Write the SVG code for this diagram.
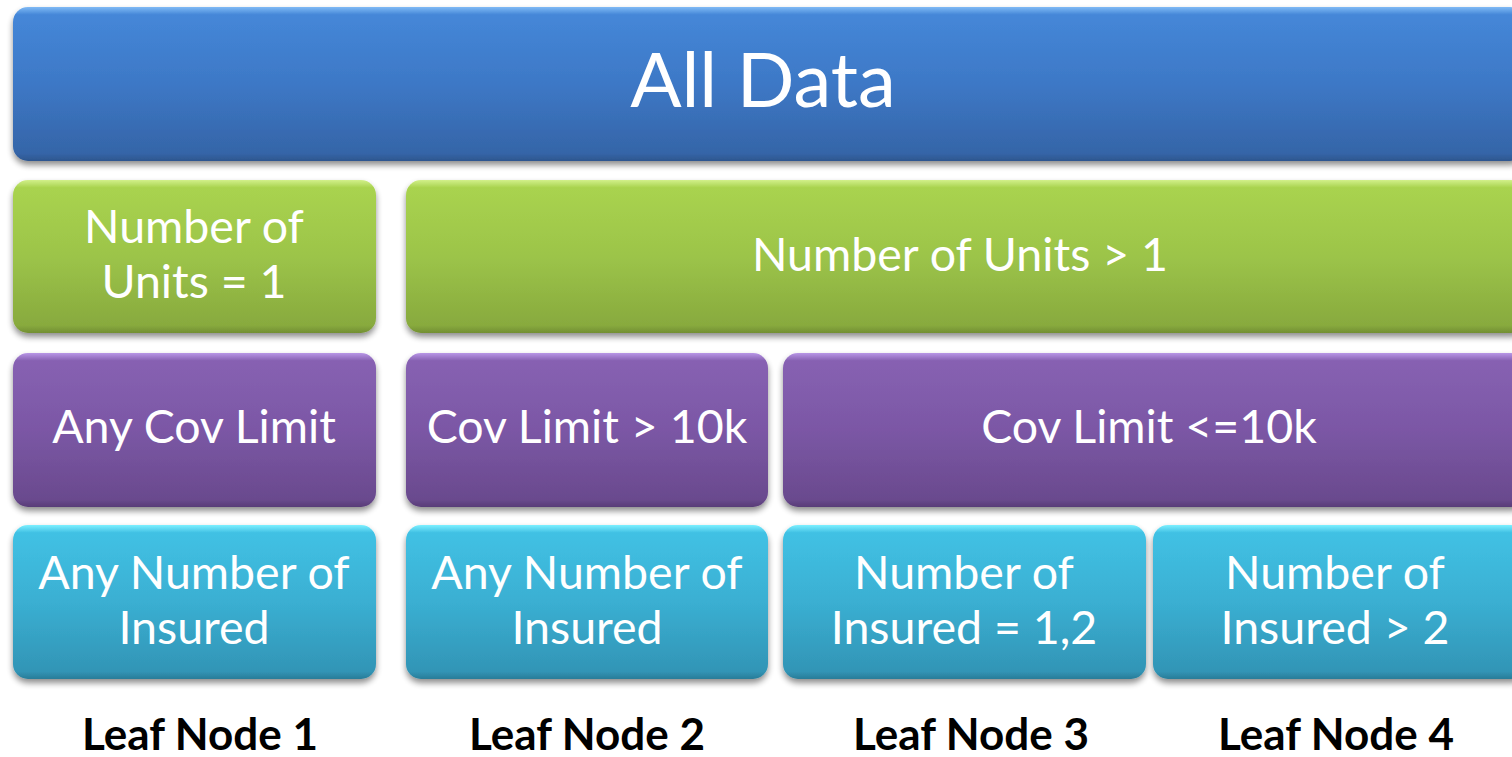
<svg xmlns="http://www.w3.org/2000/svg" width="1512" height="757" viewBox="0 0 1512 757">
<defs>
<linearGradient id="gBlue" x1="0" y1="0" x2="0" y2="1">
<stop offset="0" stop-color="#7fbaf5"/><stop offset="0.05" stop-color="#4587d8"/><stop offset="0.5" stop-color="#3d78c6"/><stop offset="0.95" stop-color="#3565a8"/><stop offset="1" stop-color="#2d568e"/>
</linearGradient>
<linearGradient id="gGreen" x1="0" y1="0" x2="0" y2="1">
<stop offset="0" stop-color="#d2f08a"/><stop offset="0.05" stop-color="#a9d34f"/><stop offset="0.5" stop-color="#9cc449"/><stop offset="0.95" stop-color="#88aa3e"/><stop offset="1" stop-color="#728f33"/>
</linearGradient>
<linearGradient id="gPurple" x1="0" y1="0" x2="0" y2="1">
<stop offset="0" stop-color="#b896e6"/><stop offset="0.05" stop-color="#8761b2"/><stop offset="0.5" stop-color="#7b57a5"/><stop offset="0.95" stop-color="#6a4a8e"/><stop offset="1" stop-color="#583d77"/>
</linearGradient>
<linearGradient id="gCyan" x1="0" y1="0" x2="0" y2="1">
<stop offset="0" stop-color="#7df0ff"/><stop offset="0.05" stop-color="#41c1e4"/><stop offset="0.5" stop-color="#3aafd2"/><stop offset="0.95" stop-color="#3295b6"/><stop offset="1" stop-color="#297c98"/>
</linearGradient>
<filter id="sh" x="-5%" y="-10%" width="110%" height="130%">
<feGaussianBlur in="SourceAlpha" stdDeviation="3"/>
<feOffset dx="0" dy="4" result="b"/>
<feComponentTransfer><feFuncA type="linear" slope="0.45"/></feComponentTransfer>
<feMerge><feMergeNode/><feMergeNode in="SourceGraphic"/></feMerge>
</filter>
</defs>
<style>
.box{filter:url(#sh)}
.t{font-family:Lato,"Open Sans",sans-serif;fill:#ffffff;text-anchor:middle;font-size:46.5px}
.big{font-size:76px}
.leaf{font-family:Lato,"Liberation Sans",sans-serif;font-weight:bold;font-size:44px;fill:#000000;text-anchor:middle}
</style>
<rect width="1512" height="757" fill="#ffffff"/>
<g id="connectors"/>
<g id="all-data">
<rect class="box" x="13" y="7" width="1512" height="154" rx="15" fill="url(#gBlue)"/>
<text class="t big" x="763" y="107">All Data</text>
</g>
<g id="units-1">
<rect class="box" x="13" y="180" width="363" height="153" rx="15" fill="url(#gGreen)"/>
<text class="t" x="194" y="243">Number of</text>
<text class="t" x="194" y="298">Units = 1</text>
</g>
<g id="units-gt1">
<rect class="box" x="406" y="180" width="1120" height="153" rx="15" fill="url(#gGreen)"/>
<text class="t" x="960" y="271">Number of Units &gt; 1</text>
</g>
<g id="cov-any">
<rect class="box" x="13" y="353" width="363" height="154" rx="15" fill="url(#gPurple)"/>
<text class="t" x="194" y="443">Any Cov Limit</text>
</g>
<g id="cov-gt10k">
<rect class="box" x="406" y="353" width="362" height="154" rx="15" fill="url(#gPurple)"/>
<text class="t" x="587" y="443">Cov Limit &gt; 10k</text>
</g>
<g id="cov-le10k">
<rect class="box" x="783" y="353" width="743" height="154" rx="15" fill="url(#gPurple)"/>
<text class="t" x="1149" y="443">Cov Limit &lt;=10k</text>
</g>
<g id="ins-any-1">
<rect class="box" x="13" y="525" width="363" height="154" rx="15" fill="url(#gCyan)"/>
<text class="t" x="194" y="589">Any Number of</text>
<text class="t" x="194" y="644">Insured</text>
</g>
<g id="ins-any-2">
<rect class="box" x="406" y="525" width="362" height="154" rx="15" fill="url(#gCyan)"/>
<text class="t" x="587" y="589">Any Number of</text>
<text class="t" x="587" y="644">Insured</text>
</g>
<g id="ins-12">
<rect class="box" x="783" y="525" width="363" height="154" rx="15" fill="url(#gCyan)"/>
<text class="t" x="964" y="589">Number of</text>
<text class="t" x="964" y="644">Insured = 1,2</text>
</g>
<g id="ins-gt2">
<rect class="box" x="1153" y="525" width="373" height="154" rx="15" fill="url(#gCyan)"/>
<text class="t" x="1335" y="589">Number of</text>
<text class="t" x="1335" y="644">Insured &gt; 2</text>
</g>
<g id="leaf-labels">
<text class="leaf" x="200" y="750">Leaf Node 1</text>
<text class="leaf" x="587" y="750">Leaf Node 2</text>
<text class="leaf" x="971" y="750">Leaf Node 3</text>
<text class="leaf" x="1336" y="750">Leaf Node 4</text>
</g>
</svg>
